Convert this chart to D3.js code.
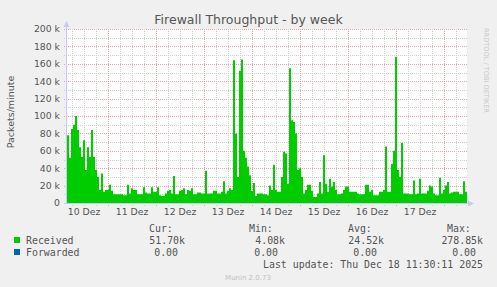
<!DOCTYPE html>
<html><head><meta charset="utf-8">
<script src="https://cdn.jsdelivr.net/npm/d3@7"></script>
<style>
html,body{margin:0;padding:0;background:#F0F0F0;}
svg{display:block;}
</style></head>
<body>
<script>
// ---- data ----
const title = "Firewall Throughput - by week";
const yLabel = "Packets/minute";
const startTime = "2025-12-10T03:30:00Z";   // first sample (hourly samples)
const endTime = "2025-12-18T11:30:00Z";     // last update
const dayLabels = ["10 Dez","11 Dez","12 Dez","13 Dez","14 Dez","15 Dez","16 Dez","17 Dez"];
const yTickValues = [0,20,40,60,80,100,120,140,160,180,200]; // in k
// Received, packets/minute in thousands, one value per hour
const received = [
 78,52,85,90,100,84,64,53,72,38, 64,53,84,53,38,30,15,34,13,15,
 15,21,14,10,10,10,10,10,9,9, 21,11,17,15,15,10,10,10,18,12,
 11,11,18,13,13,18,9,8,8,11, 14,15,11,31,10,10,14,15,17,10,
 15,14,17,10,10,12,12,11,11,37, 11,11,11,14,14,11,11,13,25,11,
 14,17,15,164,80,30,152,165,60,52, 42,32,14,23,8,11,11,11,10,10,
 9,20,15,44,15,13,13,30,59,57, 22,155,95,93,80,38,40,30,11,15,
 21,21,14,7,7,11,24,11,55,22, 13,28,19,24,15,10,10,11,15,19,
 19,13,13,13,13,11,10,10,10,21, 21,13,15,9,9,9,13,13,15,65,
 13,13,45,60,168,38,30,69,11,11, 11,10,10,26,10,11,28,11,11,11,
 14,20,19,11,9,9,29,11,15,20, 24,11,12,13,13,13,10,10,25,13, 12
];
const forwarded = received.map(() => 0);
const seriesNames = ["Received","Forwarded"];
const seriesColors = ["#00CC00","#0066B3"];
const legendHeads = ["Cur:","Min:","Avg:","Max:"];
const legendCur = ["51.70k","0.00"];
const legendMin = ["4.08k","0.00"];
const legendAvg = ["24.52k","0.00"];
const legendMax = ["278.85k","0.00"];
const lastUpdate = "Last update: Thu Dec 18 11:30:11 2025";
const sideText = "RRDTOOL / TOBI OETIKER";
const footer = "Munin 2.0.73";

// ---- drawing ----
const W = 497, H = 287;
const svg = d3.select("body").append("svg").attr("width", W).attr("height", H);
svg.append("rect").attr("width", W).attr("height", H).attr("fill", "#F0F0F0");

const x0 = 67, x1 = 467, yTop = 29, yBot = 203;
const t0 = new Date(startTime), t1 = new Date(endTime);
const x = d3.scaleUtc().domain([t0, t1]).range([x0, x1]);
const y = d3.scaleLinear().domain([0, 200]).range([yBot, yTop]);

svg.append("rect").attr("x", x0).attr("y", yTop).attr("width", x1 - x0).attr("height", yBot - yTop).attr("fill", "#FFFFFF");

const pts = received.map((v, i) => ({t: d3.utcHour.offset(t0, i), v}));

// grid (behind data)
const g = svg.append("g").attr("shape-rendering", "crispEdges");
const minorH = d3.range(10, 200, 20);
minorH.forEach(v => g.append("line").attr("x1", x0 - 3).attr("x2", x1).attr("y1", Math.round(y(v)) + 0.5).attr("y2", Math.round(y(v)) + 0.5)
  .attr("stroke", "#CFCFCF").attr("stroke-dasharray", "1,1"));
yTickValues.filter(v => v > 0).forEach(v => g.append("line").attr("x1", x0 - 3).attr("x2", x1).attr("y1", Math.round(y(v)) + 0.5).attr("y2", Math.round(y(v)) + 0.5)
  .attr("stroke", "#E0A8A8").attr("stroke-dasharray", "1,1"));
const hours6 = d3.utcHour.every(6).range(t0, t1).filter(d => d.getUTCHours() !== 0);
hours6.forEach(d => g.append("line").attr("x1", Math.round(x(d)) + 0.5).attr("x2", Math.round(x(d)) + 0.5).attr("y1", yTop).attr("y2", yBot + 3)
  .attr("stroke", "#CFCFCF").attr("stroke-dasharray", "1,1"));
const days = d3.utcDay.range(t0, t1);
days.forEach(d => g.append("line").attr("x1", Math.round(x(d)) + 0.5).attr("x2", Math.round(x(d)) + 0.5).attr("y1", yTop).attr("y2", yBot + 3)
  .attr("stroke", "#E0A8A8").attr("stroke-dasharray", "1,1"));

// data area
svg.append("path")
  .datum(pts)
  .attr("fill", seriesColors[0])
  .attr("d", d3.area().x(d => x(d.t)).y0(y(0)).y1(d => y(d.v)).curve(d3.curveStepAfter));

// axes with arrows
const axisCol = "#C8C8F8";
const ga = svg.append("g").attr("shape-rendering", "crispEdges");
ga.append("line").attr("x1", x0 - 0.5).attr("x2", x0 - 0.5).attr("y1", yBot + 1).attr("y2", 24).attr("stroke", axisCol);
ga.append("line").attr("x1", x0 - 3).attr("x2", 471).attr("y1", yBot + 0.5).attr("y2", yBot + 0.5).attr("stroke", axisCol);
svg.append("path").attr("d", `M${x0 - 3.5},27 L${x0 - 0.5},21 L${x0 + 2.5},27 Z`).attr("fill", axisCol);
svg.append("path").attr("d", `M468,${yBot - 2.5} L474,${yBot + 0.5} L468,${yBot + 3.5} Z`).attr("fill", axisCol);

const txt = "#555555";
const sans = "'DejaVu Sans', sans-serif";
const mono = "'DejaVu Sans Mono', monospace";

// y tick labels
yTickValues.forEach(v => svg.append("text").attr("x", 60).attr("y", y(v) + 3.4)
  .attr("text-anchor", "end").attr("font-family", sans).attr("font-size", 9.3).attr("fill", txt)
  .text(v === 0 ? "0" : v + " k"));

// x labels at noon
const dayStarts = d3.utcDay.range(d3.utcDay.floor(t0), t1);
dayStarts.forEach((d, i) => {
  if (i >= dayLabels.length) return;
  svg.append("text").attr("x", x(d3.utcHour.offset(d, 12))).attr("y", 214.5)
    .attr("text-anchor", "middle").attr("font-family", sans).attr("font-size", 9.3).attr("fill", txt)
    .text(dayLabels[i]);
});

// title
svg.append("text").attr("x", 248.5).attr("y", 24).attr("text-anchor", "middle")
  .attr("font-family", sans).attr("font-size", 12.5).attr("fill", txt).text(title);

// y label
svg.append("text").attr("transform", "translate(14,112) rotate(-90)").attr("text-anchor", "middle")
  .attr("font-family", sans).attr("font-size", 9.5).attr("fill", txt).text(yLabel);

// side text
svg.append("text").attr("transform", "translate(484,28) rotate(90)").attr("text-anchor", "start")
  .attr("font-family", sans).attr("font-size", 6.6).attr("fill", "#C8C8C8").text(sideText);

// legend
const cw = 6.0, fs = 9.9;
const colLeft = [149, 249, 348, 447];
const colRight = [185, 285, 384, 483];
legendHeads.forEach((h, i) => svg.append("text").attr("x", colLeft[i]).attr("y", 231.5)
  .attr("font-family", mono).attr("font-size", fs).attr("fill", txt).text(h));
const rowsY = [243.5, 255.5];
const cols = [legendCur, legendMin, legendAvg, legendMax];
seriesNames.forEach((n, r) => {
  svg.append("rect").attr("x", 14).attr("y", rowsY[r] - 6.5).attr("width", 6).attr("height", 6).attr("fill", seriesColors[r]);
  svg.append("text").attr("x", 26).attr("y", rowsY[r]).attr("font-family", mono).attr("font-size", fs).attr("fill", txt).text(n);
  cols.forEach((c, k) => {
    const s = c[r];
    const right = /[a-zA-Z]$/.test(s) ? colRight[k] : colRight[k] - cw - 1;
    svg.append("text").attr("x", right).attr("y", rowsY[r]).attr("text-anchor", "end")
      .attr("font-family", mono).attr("font-size", fs).attr("fill", txt).text(s);
  });
});
svg.append("text").attr("x", 483).attr("y", 267.5).attr("text-anchor", "end")
  .attr("font-family", mono).attr("font-size", fs).attr("fill", txt).text(lastUpdate);
svg.append("text").attr("x", 248).attr("y", 280).attr("text-anchor", "middle")
  .attr("font-family", sans).attr("font-size", 7).attr("fill", "#C0C0C0").text(footer);
</script>
</body></html>
